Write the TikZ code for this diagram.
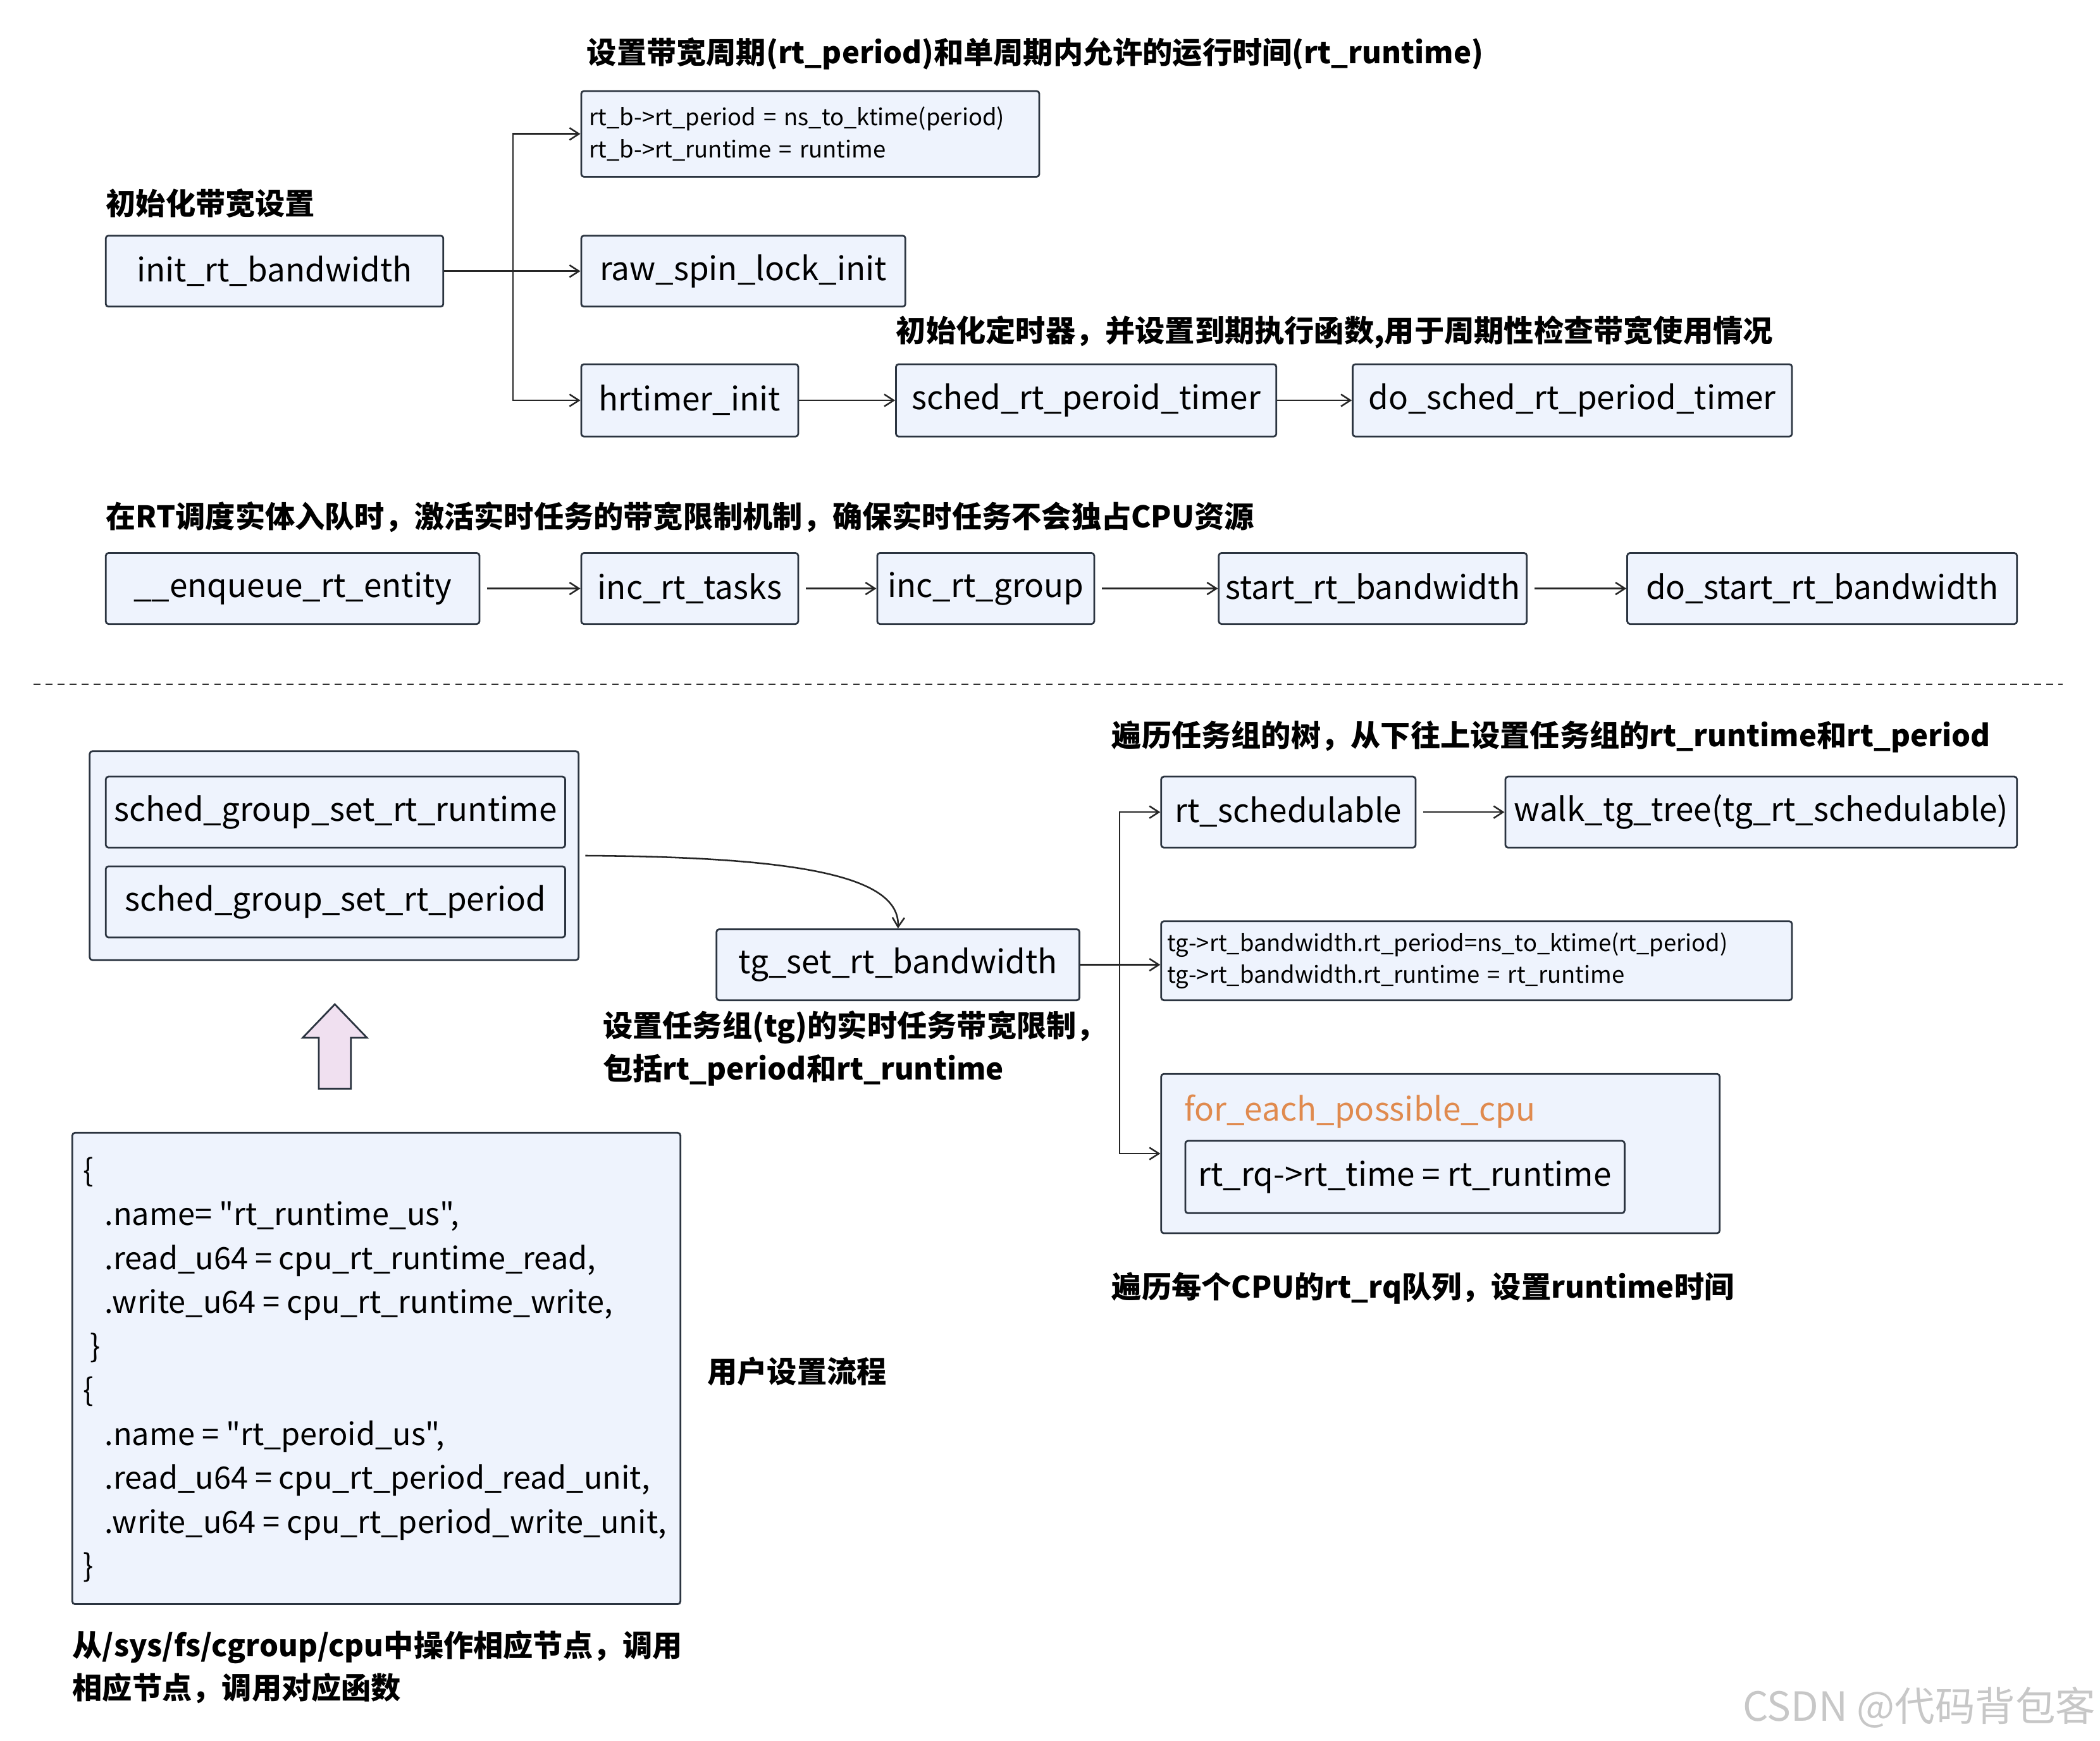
\documentclass[tikz,border=0pt]{standalone}
\usepackage{fontspec}
\setmainfont{Noto Sans CJK SC}
\newfontfamily\codefont{Noto Sans CJK SC}
\usetikzlibrary{arrows.meta}
\definecolor{boxc}{HTML}{EEF3FD}
\definecolor{edge}{HTML}{2B3440}
\definecolor{orng}{HTML}{E08A4E}
\begin{document}
\begin{tikzpicture}[x=1pt,y=-1pt,
  box/.style={draw=edge,fill=boxc,rounded corners=2pt,line width=1.3pt,inner sep=0pt,font=\fontsize{24.2}{26}\selectfont},
  sbox/.style={box,font=\fontsize{17.2}{24}\selectfont,align=left},
  lab/.style={anchor=west,inner sep=0pt,font=\fontsize{22.3}{32}\selectfont\bfseries,align=left},
  arr/.style={-{Straight Barb[length=7pt,width=9pt]},line width=1.2pt,draw=black!85}]
\useasboundingbox (0,0) rectangle (1568,1300);
% top section
\node[lab] (t1) at (438,40) {设置带宽周期(rt\_period)和单周期内允许的运行时间(rt\_runtime)};
\node[lab] (t2) at (79,152) {初始化带宽设置};
\node[box,minimum width=252,minimum height=53] (init) at (205,202.5) {init\_rt\_bandwidth};
\node[sbox,minimum width=342,minimum height=64,text width=330] (b1) at (605,100) {rt\_b->rt\_period = ns\_to\_ktime(period)\\rt\_b->rt\_runtime = runtime};
\node[box,minimum width=242,minimum height=53] (raw) at (555,202.5) {raw\_spin\_lock\_init};
\node[lab] (t3) at (669,248) {初始化定时器，并设置到期执行函数,用于周期性检查带宽使用情况};
\node[box,minimum width=162,minimum height=54] (hr) at (515,299) {hrtimer\_init};
\node[box,minimum width=284,minimum height=54] (srt) at (811,299) {sched\_rt\_peroid\_timer};
\node[box,minimum width=328,minimum height=54] (dsrt) at (1174,299) {do\_sched\_rt\_period\_timer};
\coordinate (j1) at (383,202.5);
\draw[arr] (init.east) -- (raw.west);
\draw[arr] (j1) |- (b1.west);
\draw[arr] (j1) |- (hr.west);
\draw[arr] (hr.east) -- (srt.west);
\draw[arr] (srt.east) -- (dsrt.west);
% enqueue row
\node[lab] (t4) at (79,386) {在RT调度实体入队时，激活实时任务的带宽限制机制，确保实时任务不会独占CPU资源};
\node[box,minimum width=279,minimum height=53] (enq) at (218.5,439.5) {\_\_enqueue\_rt\_entity};
\node[box,minimum width=162,minimum height=53] (inct) at (515,439.5) {inc\_rt\_tasks};
\node[box,minimum width=162,minimum height=53] (incg) at (736,439.5) {inc\_rt\_group};
\node[box,minimum width=230,minimum height=53] (start) at (1025,439.5) {start\_rt\_bandwidth};
\node[box,minimum width=291,minimum height=53] (dostart) at (1360.5,439.5) {do\_start\_rt\_bandwidth};
\draw[arr] (enq.east) ++(5,0) -- (inct.west);
\draw[arr] (inct.east) ++(5,0) -- (incg.west);
\draw[arr] (incg.east) ++(5,0) -- (start.west);
\draw[arr] (start.east) ++(5,0) -- (dostart.west);
% dashed separator
\draw[line width=1.3pt,dash pattern=on 5pt off 4pt,black!80] (25,511) -- (1540,511);
% lower left
\node[box,minimum width=365,minimum height=156] (outer) at (249.5,639) {};
\node[box,minimum width=343,minimum height=53] (sgr) at (250.5,606.5) {sched\_group\_set\_rt\_runtime};
\node[box,minimum width=343,minimum height=53] (sgp) at (250.5,673.5) {sched\_group\_set\_rt\_period};
\node[box,minimum width=271,minimum height=53] (tg) at (670.5,720.5) {tg\_set\_rt\_bandwidth};
\coordinate (cs) at (437,639);
\draw[arr] (cs) .. controls (600,640) and (672,655) .. (tg.north);
\node[lab] (t5) at (450,783) {设置任务组(tg)的实时任务带宽限制，\\包括rt\_period和rt\_runtime};
% hollow arrow
\draw[line width=1.3pt,draw=edge,fill=violet!12,line join=miter] (238,813) -- (238,775) -- (226,775) -- (250,750) -- (274,775) -- (262,775) -- (262,813) -- cycle;
\node[box,minimum width=454,minimum height=352] (code) at (281,1022) {};
\node[anchor=north west,inner sep=0pt,align=left,font=\codefont\fontsize{23}{32.8}\selectfont] (codetxt) at (62,864) {\{\\
\hspace*{16pt}.name= "rt\_runtime\_us",\\
\hspace*{16pt}.read\_u64 = cpu\_rt\_runtime\_read,\\
\hspace*{16pt}.write\_u64 = cpu\_rt\_runtime\_write,\\
\hspace*{5pt}\}\\
\{\\
\hspace*{16pt}.name = "rt\_peroid\_us",\\
\hspace*{16pt}.read\_u64 = cpu\_rt\_period\_read\_unit,\\
\hspace*{16pt}.write\_u64 = cpu\_rt\_period\_write\_unit,\\
\}};
\node[lab] (t6) at (528,1024) {用户设置流程};
\node[lab] (t7) at (54,1245) {从/sys/fs/cgroup/cpu中操作相应节点，调用\\相应节点，调用对应函数};
% lower right
\node[lab] (t8) at (830,550) {遍历任务组的树，从下往上设置任务组的rt\_runtime和rt\_period};
\node[box,minimum width=190,minimum height=53] (rts) at (962,606.5) {rt\_schedulable};
\node[box,minimum width=382,minimum height=53] (walk) at (1315,606.5) {walk\_tg\_tree(tg\_rt\_schedulable)};
\node[sbox,minimum width=471,minimum height=59,text width=462] (bw) at (1102.5,717.5) {tg->rt\_bandwidth.rt\_period=ns\_to\_ktime(rt\_period)\\tg->rt\_bandwidth.rt\_runtime = rt\_runtime};
\node[box,minimum width=417,minimum height=119] (fe) at (1075.5,861.5) {};
\node[anchor=west,inner sep=0pt,text=orng,font=\fontsize{24.2}{26}\selectfont] (fet) at (884,830) {for\_each\_possible\_cpu};
\node[box,minimum width=328,minimum height=54] (rq) at (1049,879) {rt\_rq->rt\_time = rt\_runtime};
\node[lab] (t9) at (830,962) {遍历每个CPU的rt\_rq队列，设置runtime时间};
\coordinate (j2) at (836,720.5);
\draw[arr] (tg.east) -- (tg.east -| bw.west);
\draw[arr] (j2) |- (rts.west);
\draw[arr] (j2) |- (fe.west);
\draw[arr] (rts.east) ++(5,0) -- (walk.west);
% watermark
\node[anchor=east,inner sep=0pt,text=black!22,font=\fontsize{30}{32}\selectfont] (wm) at (1565,1275) {CSDN @代码背包客};
\end{tikzpicture}
\end{document}
